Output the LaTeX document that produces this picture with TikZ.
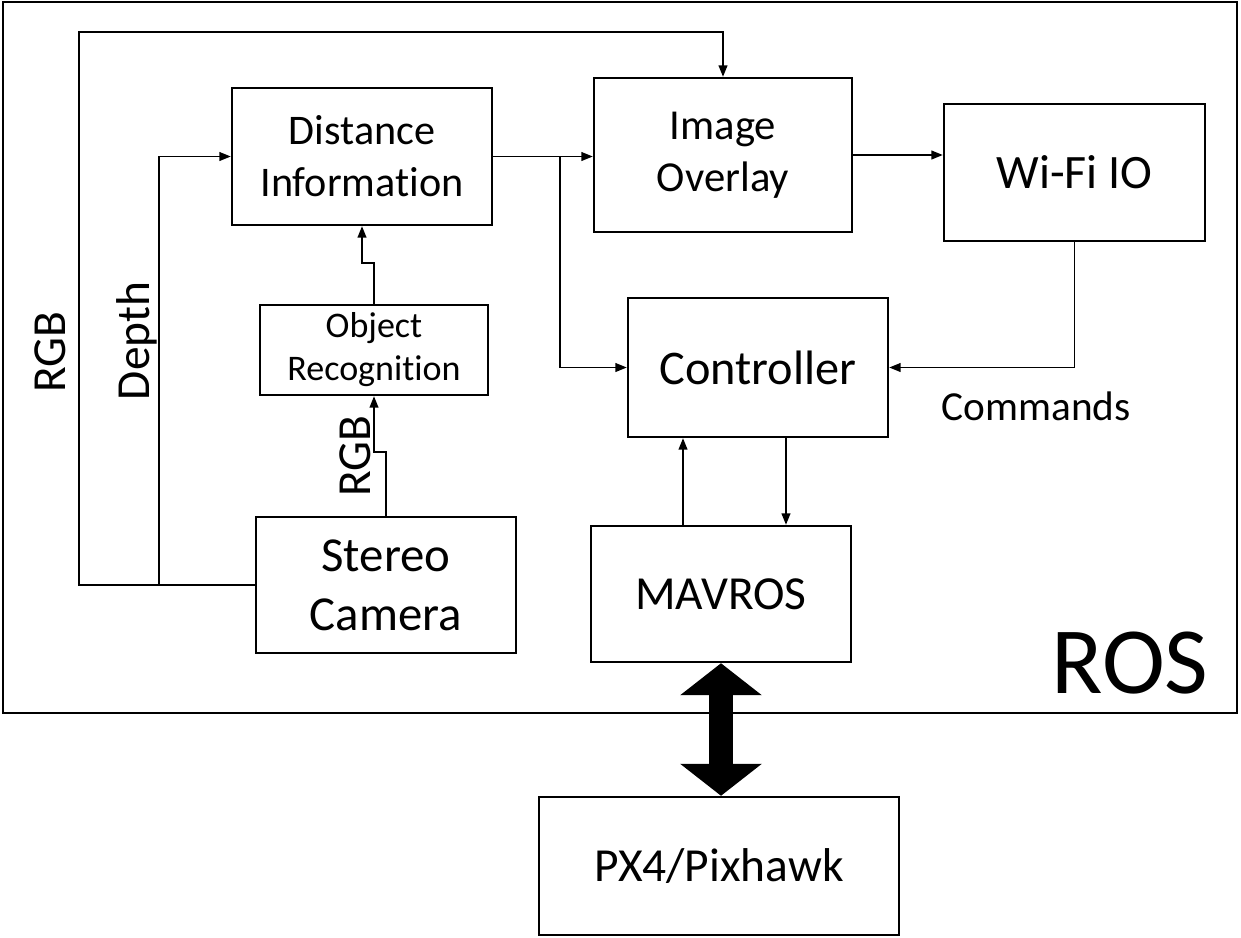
\documentclass[tikz,border=0pt]{standalone}
\usepackage{fontspec}
\setmainfont{Carlito}[Ligatures=NoCommon]
\usetikzlibrary{positioning}
\usetikzlibrary{arrows.meta}

\begin{document}
\begin{tikzpicture}[x=0.02cm, y=-0.02cm,
    block/.style={draw, line width=1.4pt, align=center, inner sep=0pt},
    link/.style={line width=0.9pt, -{Triangle[length=6.5pt,width=5pt]}},
    bus/.style={line width=0.48cm, {Triangle[length=0.64cm,width=1.6cm]}-{Triangle[length=0.64cm,width=1.6cm]}}
    ]

\useasboundingbox (0,0) rectangle (1241,937);

% ROS frame
\draw[line width=1.4pt] (3,2) rectangle (1237,713);
\node[anchor=base, font=\fontsize{54}{60}\selectfont] (roslbl) at (1130,693) {ROS};

% blocks
{
\node[block, minimum width=5.2cm, minimum height=2.74cm, font=\fontsize{24}{29.5}\selectfont] (dist) at (362,156.5) {Distance\\Information};
\node[block, minimum width=5.16cm, minimum height=3.08cm, font=\fontsize{24.3}{29.5}\selectfont] (overlay) at (723,155) {Image\\Overlay};
\node[block, minimum width=5.22cm, minimum height=2.74cm, font=\fontsize{27.3}{32}\selectfont] (wifi) at (1074.5,172.5) {Wi-Fi IO};
\node[block, minimum width=4.56cm, minimum height=1.8cm, font=\fontsize{20.5}{24.5}\selectfont] (objrec) at (374,350) {Object\\Recognition};
\node[block, minimum width=5.2cm, minimum height=2.78cm, font=\fontsize{27.5}{32}\selectfont] (ctrl) at (758,367.5) {Controller};
\node[block, minimum width=5.2cm, minimum height=2.72cm, font=\fontsize{27.8}{33.5}\selectfont] (stereo) at (386,585) {Stereo\\Camera};
\node[block, minimum width=5.2cm, minimum height=2.72cm, font=\fontsize{27}{31}\selectfont] (mavros) at (721,594) {MAVROS};
\node[block, minimum width=7.2cm, minimum height=2.76cm, font=\fontsize{27}{31}\selectfont] (px4) at (719,866) {PX4/Pixhawk};
}

% labels
{
\node[rotate=90, anchor=base, font=\fontsize{27}{32}\selectfont] (rgbouter) at (65,352) {RGB};
\node[rotate=90, anchor=base, font=\fontsize{27}{32}\selectfont] (depthlbl) at (149,341) {Depth};
\node[rotate=90, anchor=base, font=\fontsize{27}{32}\selectfont] (rgbinner) at (370,456) {RGB};
\node[anchor=base, font=\fontsize{23.5}{28}\selectfont] (cmdlbl) at (1036,420) {Commands};
}

% taps
\coordinate (depthtap) at (159,585);
\coordinate (splittap) at (560,156.5);

% arrows
{
\draw[link] (stereo.west) -| (79,32) -| (overlay.north);
\draw[link] (depthtap) |- (dist.west);
\draw[link] (stereo.north) --++(0,-64) -| (objrec.south);
\draw[link] (objrec.north) --++(0,-41) -| (dist.south);
\draw[link] (dist.east) -- (overlay.west |- dist.east);
\draw[link] (splittap) |- (ctrl.west);
\draw[link] (overlay.east) -- (wifi.west |- overlay.east);
\draw[link] (wifi.south) |- (ctrl.east);
\draw[link] ([xshift=-0.76cm]mavros.north) -- ([xshift=-0.76cm]mavros.north |- ctrl.south);
\draw[link] ([xshift=1.3cm]mavros.north |- ctrl.south) -- ([xshift=1.3cm]mavros.north);
}

% link to autopilot
\draw[bus] (mavros.south) -- (mavros.south |- px4.north);

\end{tikzpicture}
\end{document}
